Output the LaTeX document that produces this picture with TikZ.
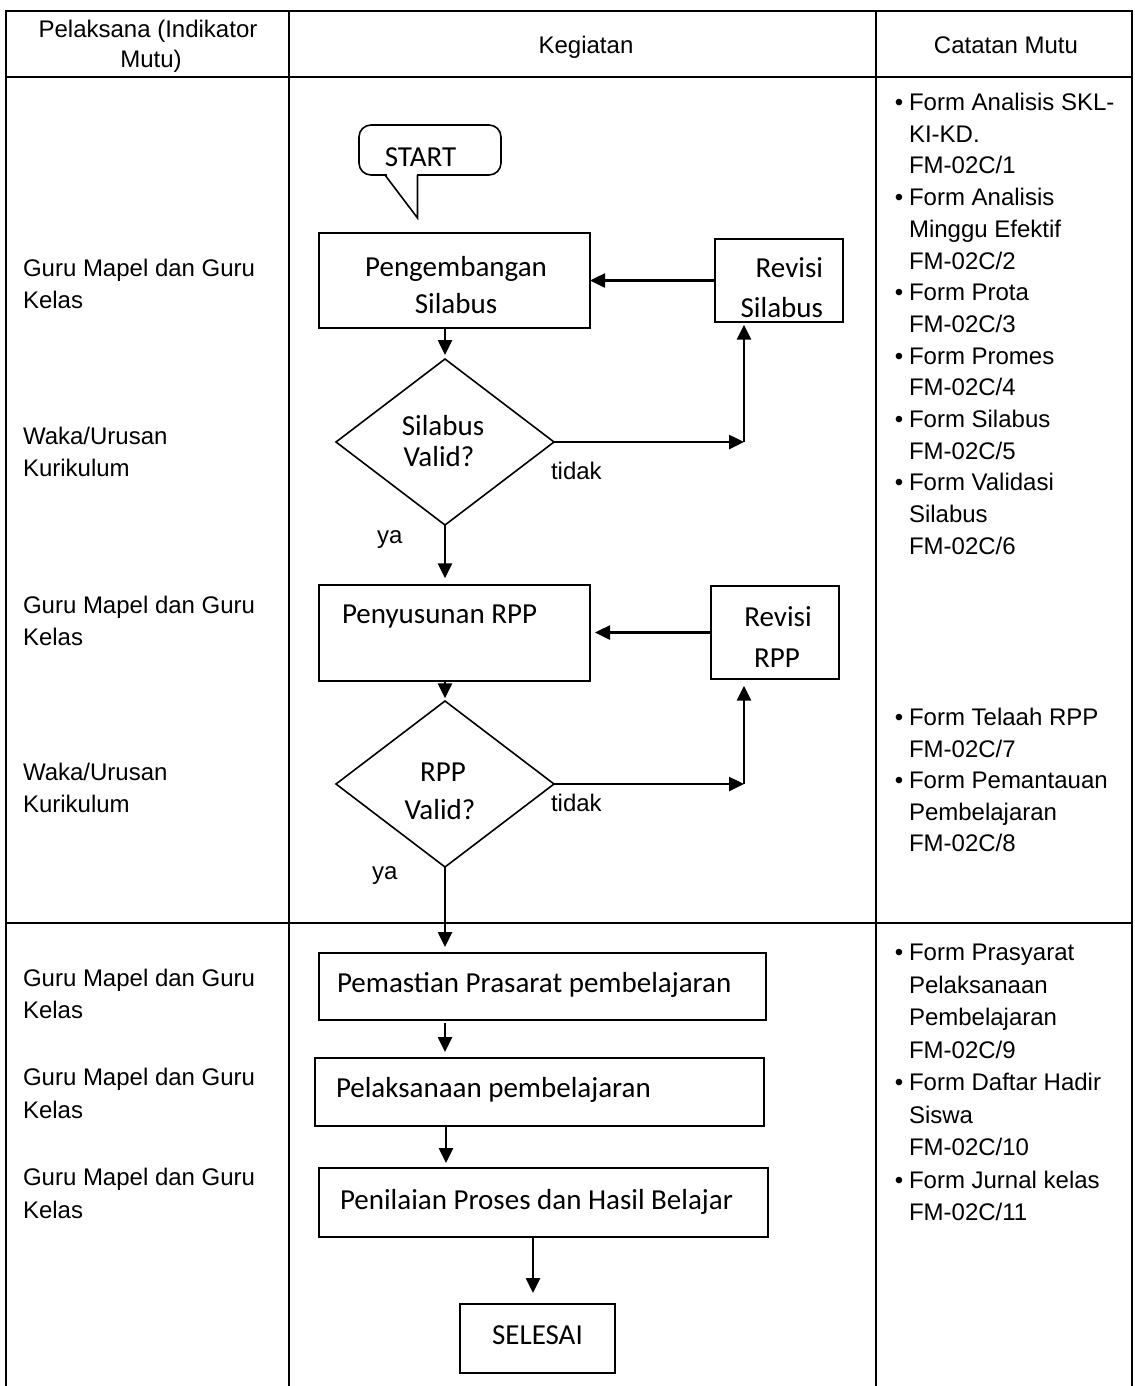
\documentclass[tikz,border=0pt]{standalone}
\usepackage{fontspec}
\setmainfont{Liberation Sans}
\newfontfamily\calibrifont{Carlito}
\usetikzlibrary{arrows.meta,shapes.geometric,fit}
\begin{document}
\begin{tikzpicture}[x=0.75pt,y=-0.75pt,
  tbl/.style={line width=1.5pt},
  box/.style={draw, line width=1.2pt, inner sep=0pt, outer sep=0pt},
  dia/.style={draw, diamond, line width=1.2pt, inner sep=0pt, outer sep=0pt, minimum width=163.5pt, minimum height=124.5pt},
  arr/.style={line width=1.9pt, -{Triangle[length=11.25pt,width=10.5pt]}},
  ar/.style={font=\fontsize{18pt}{23.8pt}\selectfont, inner sep=0pt, outer sep=0pt, anchor=base west},
  cb/.style={font=\calibrifont\fontsize{21.75pt}{26pt}\selectfont, inner sep=0pt, outer sep=0pt, anchor=base},
  bul/.style={font=\fontsize{18pt}{23.8pt}\selectfont, inner sep=0pt, outer sep=0pt, anchor=base},
]
\useasboundingbox (0,0) rectangle (1135,1386);

% table
\draw[tbl] (6,1386) -- (6,11) -- (1132,11) -- (1132,1386);
\draw[tbl] (289,11) -- (289,1386);
\draw[tbl] (876,11) -- (876,1386);
\draw[tbl] (6,77) -- (1132,77);
\draw[tbl] (6,923) -- (1132,923);

% header
\node[ar, anchor=base] (h1a) at (148,37) {Pelaksana (Indikator};
\node[ar, anchor=base] (h1b) at (151,67) {Mutu)};
\node[ar, anchor=base] (h2) at (586,53) {Kegiatan};
\node[ar, anchor=base] (h3) at (1006,53) {Catatan Mutu};

% left column
\node[ar] (l1a) at (23,276.5) {Guru Mapel dan Guru};
\node[ar] (l1b) at (23,308.5) {Kelas};
\node[ar] (l2a) at (23,444.5) {Waka/Urusan};
\node[ar] (l2b) at (23,476.5) {Kurikulum};
\node[ar] (l3a) at (23,613.5) {Guru Mapel dan Guru};
\node[ar] (l3b) at (23,645.5) {Kelas};
\node[ar] (l4a) at (23,780.5) {Waka/Urusan};
\node[ar] (l4b) at (23,812.5) {Kurikulum};
\node[ar] (l5a) at (23,986.5) {Guru Mapel dan Guru};
\node[ar] (l5b) at (23,1018.5) {Kelas};
\node[ar] (l6a) at (23,1085.5) {Guru Mapel dan Guru};
\node[ar] (l6b) at (23,1118.5) {Kelas};
\node[ar] (l7a) at (23,1185.5) {Guru Mapel dan Guru};
\node[ar] (l7b) at (23,1218.5) {Kelas};

% right column
\node[bul] (b1) at (899,110.5) {•};
\node[ar] (r1) at (909,110.5) {Form Analisis SKL-};
\node[ar] (r2) at (909,142.2) {KI-KD.};
\node[ar] (r3) at (909,173.9) {FM-02C/1};
\node[bul] (b2) at (899,205.6) {•};
\node[ar] (r4) at (909,205.6) {Form Analisis};
\node[ar] (r5) at (909,237.3) {Minggu Efektif};
\node[ar] (r6) at (909,269.0) {FM-02C/2};
\node[bul] (b3) at (899,300.7) {•};
\node[ar] (r7) at (909,300.7) {Form Prota};
\node[ar] (r8) at (909,332.4) {FM-02C/3};
\node[bul] (b4) at (899,364.1) {•};
\node[ar] (r9) at (909,364.1) {Form Promes};
\node[ar] (r10) at (909,395.8) {FM-02C/4};
\node[bul] (b5) at (899,427.5) {•};
\node[ar] (r11) at (909,427.5) {Form Silabus};
\node[ar] (r12) at (909,459.2) {FM-02C/5};
\node[bul] (b6) at (899,490.9) {•};
\node[ar] (r13) at (909,490.9) {Form Validasi};
\node[ar] (r14) at (909,522.6) {Silabus};
\node[ar] (r15) at (909,554.3) {FM-02C/6};

\node[bul] (b7) at (899,725.5) {•};
\node[ar] (s1) at (909,725.5) {Form Telaah RPP};
\node[ar] (s2) at (909,757) {FM-02C/7};
\node[bul] (b8) at (899,788.5) {•};
\node[ar] (s3) at (909,788.5) {Form Pemantauan};
\node[ar] (s4) at (909,820) {Pembelajaran};
\node[ar] (s5) at (909,851.5) {FM-02C/8};

\node[bul] (b9) at (899,960.5) {•};
\node[ar] (u1) at (909,960.5) {Form Prasyarat};
\node[ar] (u2) at (909,993) {Pelaksanaan};
\node[ar] (u3) at (909,1025.5) {Pembelajaran};
\node[ar] (u4) at (909,1058) {FM-02C/9};
\node[bul] (b10) at (899,1090.5) {•};
\node[ar] (u5) at (909,1090.5) {Form Daftar Hadir};
\node[ar] (u6) at (909,1123) {Siswa};
\node[ar] (u7) at (909,1155.5) {FM-02C/10};
\node[bul] (b11) at (899,1188) {•};
\node[ar] (u8) at (909,1188) {Form Jurnal kelas};
\node[ar] (u9) at (909,1220.5) {FM-02C/11};

% START bubble
\node[box, rounded corners=9pt, fit={(359,125)(501,175)}] (start) {};
\coordinate (tl) at (385,175);
\coordinate (tr) at (417.5,175);
\coordinate (tip) at (417.5,218);
\fill[white] (386.5,172.5) rectangle (416.5,177.5);
\draw[line width=1.2pt] (tl) -- (tip) -- (tr);
\node[cb] (tstart) at (420.5,166) {START};

% boxes
\node[box, fit={(319,233)(590,328)}] (peng) {};
\node[cb] (tpeng1) at (456,276) {Pengembangan};
\node[cb] (tpeng2) at (456,313) {Silabus};

\node[box, fit={(715,239)(843,322)}] (rev1) {};
\node[cb, anchor=base east] (trev1a) at (823,277) {Revisi};
\node[cb, anchor=base east] (trev1b) at (823,317) {Silabus};

\node[dia] (d1) at (445,442) {};
\node[cb] (td1a) at (443,435) {Silabus};
\node[cb] (td1b) at (439,466) {Valid?};
\node[ar] (tidak1) at (551,479) {tidak};
\node[ar] (ya1) at (377,543) {ya};

\node[box, fit={(319,585)(590,681)}] (peny) {};
\node[cb, anchor=base west] (tpeny) at (342,623) {Penyusunan RPP};

\node[box, fit={(711,586)(839,679)}] (rev2) {};
\node[cb] (trev2a) at (778,626) {Revisi};
\node[cb] (trev2b) at (777,667) {RPP};

\node[dia] (d2) at (445,784) {};
\node[cb] (td2a) at (443,781) {RPP};
\node[cb] (td2b) at (440,819) {Valid?};
\node[ar] (tidak2) at (551,811) {tidak};
\node[ar] (ya2) at (372,879) {ya};

\node[box, fit={(319,953)(766,1020)}] (pem) {};
\node[cb, anchor=base west] (tpem) at (337,992) {Pemastian Prasarat pembelajaran};

\node[box, fit={(315,1058)(764,1126)}] (pel) {};
\node[cb, anchor=base west] (tpel) at (336,1097) {Pelaksanaan pembelajaran};

\node[box, fit={(319,1168)(768,1237)}] (pen) {};
\node[cb, anchor=base west] (tpen) at (340,1209) {Penilaian Proses dan Hasil Belajar};

\node[box, fit={(460,1304)(615,1373)}] (sel) {};
\node[cb] (tsel) at (537.5,1344) {SELESAI};

% connectors
\coordinate (c1) at (744,442);
\coordinate (c2) at (744,784);
\coordinate (xa) at (445,0);
\coordinate (xb) at (446,0);
\coordinate (xc) at (533,0);

\draw[arr, shorten >=3pt] (peng.south -| d1.north) -- (d1.north);
\draw[arr] (rev1.west) -- (rev1.west -| peng.east);
\draw[arr] (d1.east) -- (c1);
\draw[arr, shorten >=2pt] (c1) -- (c1 |- rev1.south);
\draw[arr, shorten >=5pt] (d1.south) -- (d1.south |- peny.north);
\draw[arr, shorten >=3.75pt] (rev2.west) -- (rev2.west -| peny.east);
\draw[arr, shorten >=2pt] (peny.south -| d2.north) -- (d2.north);
\draw[arr] (d2.east) -- (c2);
\draw[arr, shorten >=5pt] (c2) -- (c2 |- rev2.south);
\draw[arr, shorten >=4.5pt] (d2.south) -- (d2.south |- pem.north);
\draw[arr, shorten <=2.25pt, shorten >=4.5pt] (pem.south -| xa) -- (pel.north -| xa);
\draw[arr, shorten >=3.75pt] (pel.south -| xb) -- (pen.north -| xb);
\draw[arr, shorten >=8.25pt] (pen.south -| xc) -- (sel.north -| xc);
\end{tikzpicture}
\end{document}
